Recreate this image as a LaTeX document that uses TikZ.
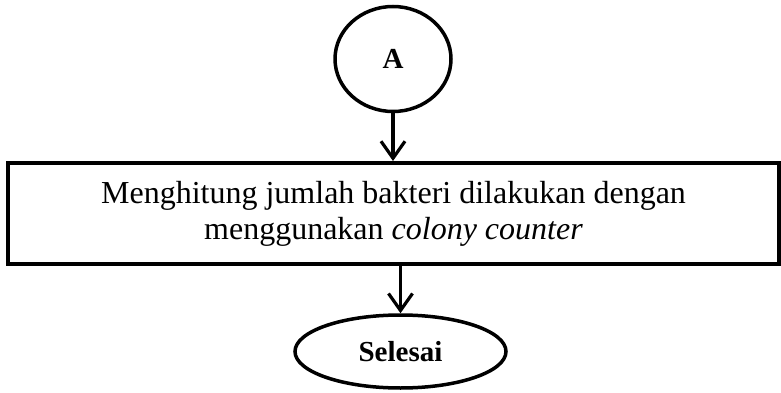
\documentclass[tikz,border=0pt]{standalone}
\usepackage{fontspec}
\setmainfont{Liberation Serif}
\usetikzlibrary{shapes.geometric,arrows.meta}
\tikzset{
  conn/.style={ellipse,draw,line width=3.5pt,inner sep=0pt,font=\fontsize{29}{32}\selectfont\bfseries},
  procbox/.style={rectangle,draw,line width=4pt,inner sep=0pt,align=center,font=\fontsize{32}{36}\selectfont},
  arr/.style={line width=3.2pt,-{Straight Barb[length=17pt,width=24pt]}}
}
\begin{document}
\begin{tikzpicture}[x=1pt,y=-1pt]
\useasboundingbox (0,0) rectangle (781,393);
\node[conn,minimum width=116pt,minimum height=105pt] (A) at (393,59) {A};
\node[procbox,minimum width=771pt,minimum height=101pt] (box) at (393.5,213.5)
  {Menghitung jumlah bakteri dilakukan dengan\\menggunakan \textit{colony counter}};
\node[conn,minimum width=211pt,minimum height=73pt] (sel) at (400.5,351.5) {Selesai};
\draw[arr] (A.south) -- (A.south |- box.north);
\draw[arr] (sel.north |- box.south) -- (sel.north);
\end{tikzpicture}
\end{document}
